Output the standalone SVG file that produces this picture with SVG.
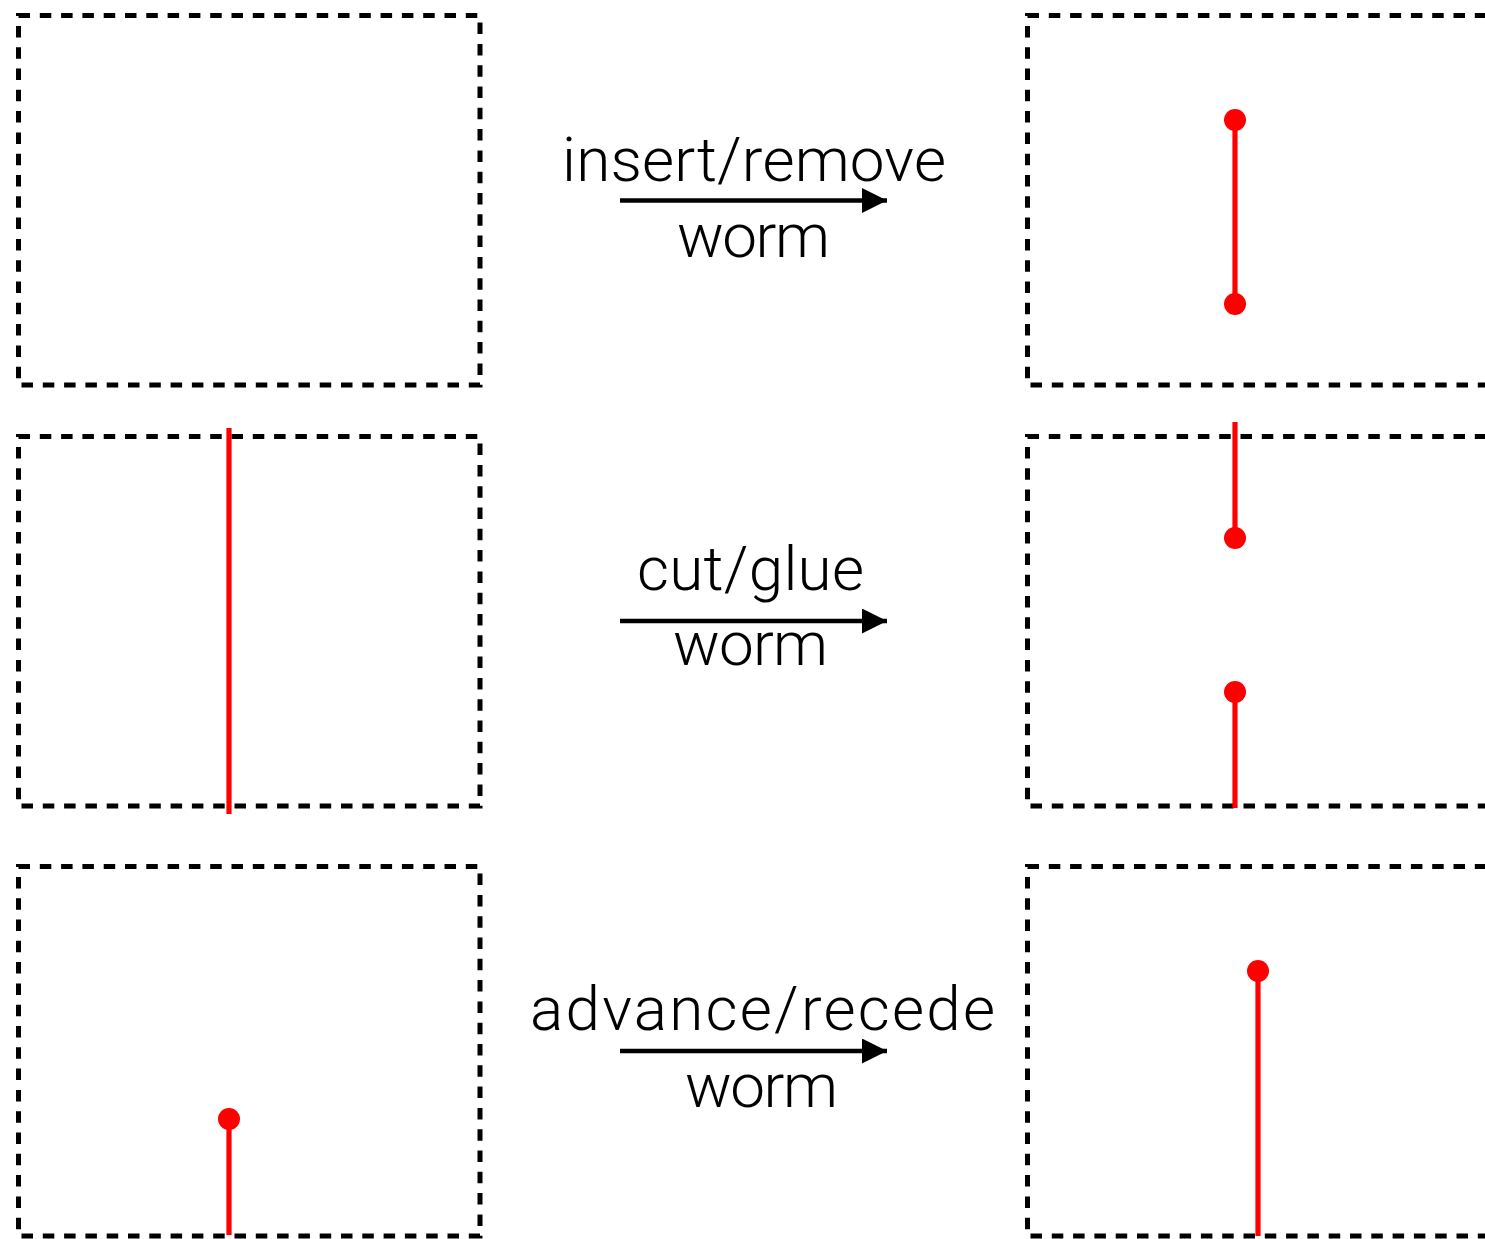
<svg xmlns="http://www.w3.org/2000/svg" width="1485" height="1239" viewBox="0 0 1485 1239">
  <defs>
    <style>
      .frame { fill: none; stroke: #000; stroke-width: 5; stroke-dasharray: 11.5 9.8; }
      .worm { stroke: #ff0000; stroke-width: 5.2; fill: none; }
      .head { fill: #ff0000; }
      .arrow { stroke: #000; stroke-width: 4.6; fill: none; }
      .label { font-family: Roboto, "Liberation Sans", sans-serif; font-weight: 300; font-size: 62px; fill: #000; text-anchor: middle; }
    </style>
    <marker id="arrowhead" markerUnits="userSpaceOnUse" markerWidth="26" markerHeight="26" refX="25" refY="12.5" orient="auto">
      <path d="M0,0 L25,12.5 L0,25 Z" fill="#000"/>
    </marker>
  </defs>

  <rect width="1485" height="1239" fill="#fff"/>

  <!-- row 1: empty state -> single worm with two heads -->
  <g id="state-empty">
    <rect class="frame" x="18.5" y="15.5" width="461.5" height="369.5"/>
  </g>
  <g id="state-inserted">
    <rect class="frame" x="1027.5" y="15.5" width="461.5" height="369.5"/>
    <line class="worm" x1="1235" y1="120" x2="1235" y2="304"/>
    <circle class="head" cx="1235" cy="120" r="11"/>
    <circle class="head" cx="1235" cy="304" r="11"/>
  </g>

  <!-- row 2: closed loop -> cut open -->
  <g id="state-closed">
    <rect class="frame" x="18.5" y="436.5" width="461.5" height="369.5"/>
    <line class="worm" x1="229" y1="428" x2="229" y2="814"/>
  </g>
  <g id="state-cut">
    <rect class="frame" x="1027.5" y="436.5" width="461.5" height="369.5"/>
    <line class="worm" x1="1235" y1="422" x2="1235" y2="538"/>
    <circle class="head" cx="1235" cy="538" r="11"/>
    <line class="worm" x1="1235" y1="692" x2="1235" y2="808"/>
    <circle class="head" cx="1235" cy="692" r="11"/>
  </g>

  <!-- row 3: short worm -> advanced worm -->
  <g id="state-short">
    <rect class="frame" x="18.5" y="866.5" width="461.5" height="369.5"/>
    <line class="worm" x1="229" y1="1119" x2="229" y2="1235"/>
    <circle class="head" cx="229" cy="1119" r="11"/>
  </g>
  <g id="state-advanced">
    <rect class="frame" x="1027.5" y="866.5" width="461.5" height="369.5"/>
    <line class="worm" x1="1258" y1="971" x2="1258" y2="1236"/>
    <circle class="head" cx="1258" cy="971" r="11"/>
  </g>

  <!-- transitions -->
  <g id="connectors">
    <line class="arrow" x1="620" y1="200.5" x2="887" y2="200.5" marker-end="url(#arrowhead)"/>
    <line class="arrow" x1="620" y1="621" x2="887" y2="621" marker-end="url(#arrowhead)"/>
    <line class="arrow" x1="620" y1="1051" x2="887" y2="1051" marker-end="url(#arrowhead)"/>
  </g>

  <g id="labels">
    <text class="label" x="754" y="181" textLength="384" lengthAdjust="spacing">insert/remove</text>
    <text class="label" x="753.5" y="257" textLength="153" lengthAdjust="spacing">worm</text>
    <text class="label" x="750.5" y="590" textLength="227" lengthAdjust="spacing">cut/glue</text>
    <text class="label" x="750.5" y="665" textLength="155" lengthAdjust="spacing">worm</text>
    <text class="label" x="762.5" y="1030" textLength="465" lengthAdjust="spacing">advance/recede</text>
    <text class="label" x="761.5" y="1107" textLength="153" lengthAdjust="spacing">worm</text>
  </g>
</svg>
